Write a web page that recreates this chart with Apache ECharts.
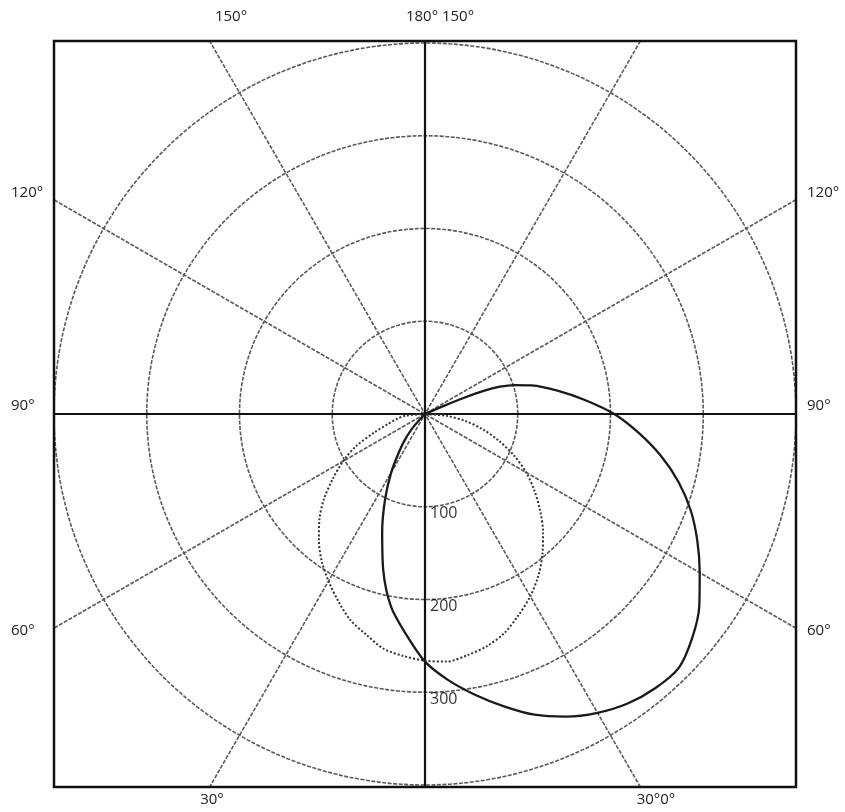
<!DOCTYPE html>
<html>
<head>
<meta charset="utf-8">
<script src="https://cdn.jsdelivr.net/npm/echarts@6.0.0/dist/echarts.min.js"></script>
<style>
html,body{margin:0;padding:0;background:#ffffff;}
#chart{width:845px;height:812px;}
</style>
</head>
<body>
<div id="chart"></div>
<script>
// ---- data ----
const radiusMax = 400;
const radiusInterval = 100;
const radiusLabelValues = [100, 200, 300];
const spokeAngles = [30, 60, 120, 150];      // grey radial lines (deg from downward vertical)
const axisAngles = [0, 90];                   // black vertical / horizontal lines

// solid curve (angle in degrees from 0 at bottom, + to the right), value (cd)
const solidAngles = [-45, -42, -38, -35, -30, -25, -20, -15, -10, -5, 0, 5, 10, 15, 20, 25, 30, 35, 40, 45,
  50, 55, 60, 65, 70, 75, 80, 85, 90, 95, 100, 105, 108, 110, 111.5, 112.5, 113.5, 114];
const solidValues = [0, 19, 35, 47, 73, 102, 135, 174, 211, 238, 267, 288, 307, 326, 345, 360, 372, 381, 386, 387,
  376, 361, 342, 324, 305, 283, 258, 231, 204, 173, 145, 119, 101, 86, 68, 45, 20, 0];

// dotted curve
const dottedAngles = [-90, -85, -80, -75, -70, -65, -60, -55, -50, -45, -40, -35, -30, -25, -20, -15, -10, -5, 0,
  5, 10, 15, 20, 25, 30, 35, 40, 45, 50, 55, 60, 65, 70, 75, 80, 85, 90];
const dottedValues = [0, 21, 31, 41, 58, 82, 102, 121, 142, 161, 178, 194, 208, 222, 236, 246, 257, 262, 266,
  268, 264, 259, 251, 239, 227, 213, 197, 180, 162, 144, 126, 106, 85, 65, 45, 24, 0];

// angle labels around the frame
const topLabels = ['150°', '180° 150°'];
const leftLabels = ['120°', '90°', '60°'];
const rightLabels = ['120°', '90°', '60°'];
const bottomLabels = ['30°', '30°0°'];

// ---- layout ----
const cx = 425, cy = 414, rPx = 371;
const frame = {x: 54, y: 41, w: 742, h: 746};
const unit = rPx / radiusMax;
const halfW = (frame.w / 2) / unit, halfH = (frame.h / 2) / unit;
function spokeLen(a) {
  const rad = a * Math.PI / 180;
  const c = Math.abs(Math.cos(rad)), s = Math.abs(Math.sin(rad));
  const l1 = c > 1e-6 ? halfH / c : Infinity;
  const l2 = s > 1e-6 ? halfW / s : Infinity;
  return Math.min(l1, l2);
}
function endPoint(a) {
  const rad = a * Math.PI / 180, L = spokeLen(a);
  return [L * Math.sin(rad), -L * Math.cos(rad)];
}
function throughLine(a, color, width, type, z) {
  return {
    type: 'line', xAxisIndex: 0, yAxisIndex: 0, silent: true, symbol: 'none', z: z,
    data: [endPoint(a), endPoint(a + 180)],
    lineStyle: {color: color, width: width, type: type},
    animation: false
  };
}

const series = [];
spokeAngles.forEach(a => series.push(throughLine(a, '#5c5c5c', 1.6, [4, 1.5], 1)));
axisAngles.forEach(a => series.push(throughLine(a, '#111111', 2.2, 'solid', 2)));
series.push({
  name: 'dotted', type: 'line', coordinateSystem: 'polar', symbol: 'none', clip: false, z: 3,
  smooth: 0.3,
  data: dottedValues.map((v, i) => [v, dottedAngles[i]]),
  lineStyle: {color: '#333', width: 2, type: [2, 2]},
  animation: false
});
series.push({
  name: 'solid', type: 'line', coordinateSystem: 'polar', symbol: 'none', clip: false, z: 4,
  smooth: 0.3,
  data: solidValues.map((v, i) => [v, solidAngles[i]]),
  lineStyle: {color: '#1a1a1a', width: 2.3},
  animation: false
});
series.push({
  type: 'scatter', coordinateSystem: 'polar', symbolSize: 0, silent: true, z: 5,
  data: radiusLabelValues.map(v => [v, 0]),
  label: {
    show: true, position: 'right', distance: 5, offset: [0, 7],
    formatter: p => String(p.value[0]),
    color: '#000', fontSize: 16, fontFamily: 'Open Sans, sans-serif'
  },
  animation: false
});

const labelFont = '15px "Open Sans", sans-serif';
const graphic = [
  {type: 'rect', shape: {x: frame.x, y: frame.y, width: frame.w, height: frame.h},
   style: {fill: 'none', stroke: '#111', lineWidth: 2.5}, z: 10, silent: true}
];
const topPos = [[231, 17], [440, 17]];
const leftPos = [[11, 193], [11, 406], [11, 631]];
const rightPos = [[807, 193], [807, 406], [807, 631]];
const bottomPos = [[212, 800], [656, 800]];
function addTexts(texts, pos, align) {
  texts.forEach((t, i) => graphic.push({
    type: 'text', x: pos[i][0], y: pos[i][1], silent: true, z: 11,
    style: {text: t, font: labelFont, fill: '#222', textAlign: align, textVerticalAlign: 'middle'}
  }));
}
addTexts(topLabels, topPos, 'center');
addTexts(leftLabels, leftPos, 'left');
addTexts(rightLabels, rightPos, 'left');
addTexts(bottomLabels, bottomPos, 'center');

const chart = echarts.init(document.getElementById('chart'), null, {renderer: 'canvas'});
chart.setOption({
  backgroundColor: '#ffffff',
  animation: false,
  grid: {left: frame.x, top: frame.y, width: frame.w, height: frame.h, show: false},
  xAxis: {type: 'value', min: -halfW, max: halfW, show: false},
  yAxis: {type: 'value', min: -halfH, max: halfH, show: false},
  polar: {center: [cx, cy], radius: rPx},
  angleAxis: {
    type: 'value', min: -180, max: 180, interval: 30, startAngle: 90, clockwise: false,
    axisLine: {show: false}, axisTick: {show: false}, axisLabel: {show: false}, splitLine: {show: false}
  },
  radiusAxis: {
    type: 'value', min: 0, max: radiusMax, interval: radiusInterval,
    axisLine: {show: false}, axisTick: {show: false}, axisLabel: {show: false},
    splitLine: {show: true, lineStyle: {color: '#5a5a5a', width: 1.6, type: [4, 1.5]}}
  },
  series: series,
  graphic: graphic
});
</script>
</body>
</html>
